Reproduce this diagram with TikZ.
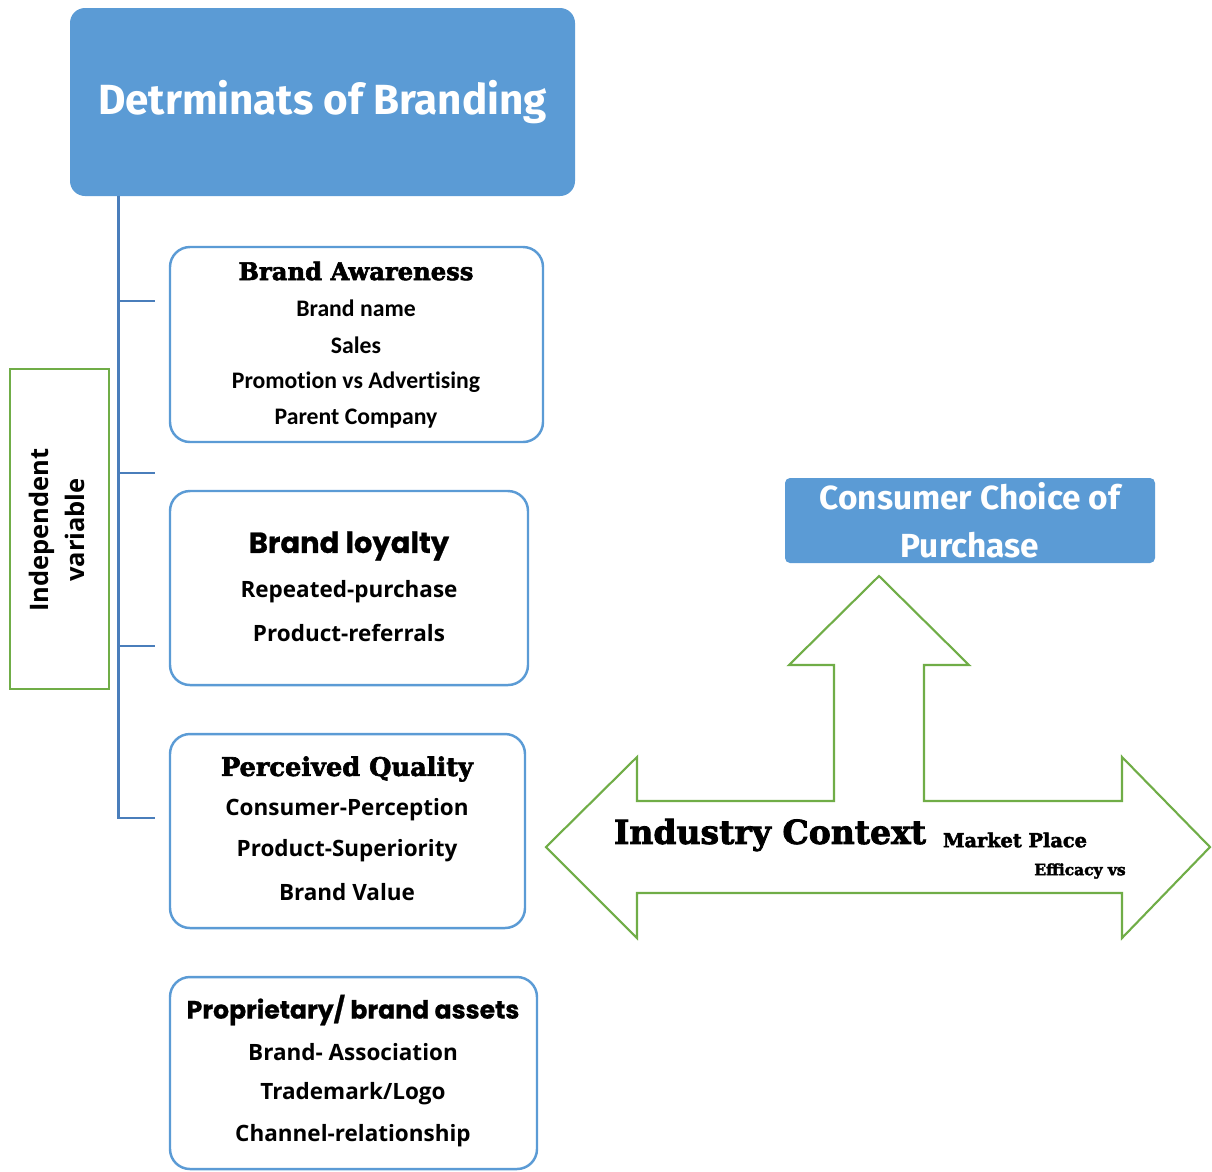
\documentclass[tikz,border=0pt]{standalone}
\usepackage{fontspec}
\setmainfont{Carlito}
\newfontfamily\titlefont{Fira Sans}
\newfontfamily\fatserif{DejaVu Serif}[BoldFeatures={FakeBold=2.5}]
\newfontfamily\headfont{Poppins}[BoldFeatures={FakeBold=0.8}]
\newfontfamily\bodyfont{Open Sans}
\newfontfamily\calfont{Carlito}[Ligatures=NoCommon]
\definecolor{boxblue}{HTML}{5B9BD5}
\definecolor{linkblue}{HTML}{4A7EBB}
\definecolor{leafgreen}{HTML}{70AD47}
\newdimen\pxu
\pxu=0.02cm
\begin{document}
\begin{tikzpicture}[x=0.02cm,y=-0.02cm,
  bluebox/.style={rectangle, fill=boxblue, draw=none, inner sep=0pt},
  itembox/.style={rectangle, rounded corners=0.4cm, draw=boxblue, line width=1.4pt, fill=white, inner sep=0pt},
  link/.style={draw=linkblue, line width=1.4pt},
  txt/.style={inner sep=0pt, anchor=center},
  fattitle/.style={txt, font=\fatserif\bfseries\fontsize{13.8}{16}\selectfont},
  calline/.style={txt, font=\calfont\bfseries\fontsize{13.5}{16}\selectfont},
  sansline/.style={txt, font=\bodyfont\bfseries\fontsize{12.8}{15}\selectfont},
  headline/.style={txt, font=\headfont\bfseries}]
\useasboundingbox (0,0) rectangle (1212,1171);

% heading box
\node[bluebox, rounded corners=0.3cm, minimum width=505\pxu, minimum height=188\pxu,
      text=white, font=\titlefont\bfseries\fontsize{24}{28}\selectfont] (top) at (322.5,102) {Detrminats of Branding};

% independent-variable label
\node[rectangle, draw=leafgreen, line width=1.4pt, minimum width=99\pxu, minimum height=320\pxu, inner sep=0pt] (indep) at (59.5,529) {};
\node[txt, rotate=90, align=center, font=\bodyfont\bfseries\fontsize{14.5}{20.5}\selectfont] (indeptext) at (57,530) {Independent\\variable};

% determinant boxes
\node[itembox, minimum width=373\pxu, minimum height=195\pxu] (aware) at (356.5,344.5) {};
\node[itembox, minimum width=358\pxu, minimum height=194\pxu] (loyal) at (349,588) {};
\node[itembox, minimum width=355\pxu, minimum height=194\pxu] (quality) at (347.5,831) {};
\node[itembox, minimum width=367\pxu, minimum height=192\pxu] (assets) at (353.5,1073) {};

% Brand Awareness
\node[fattitle] (aw0) at (356,271) {Brand Awareness};
\node[calline] (aw1) at (356,308) {Brand name};
\node[calline] (aw2) at (356,345) {Sales};
\node[calline] (aw3) at (356,382) {Promotion vs Advertising};
\node[calline] (aw4) at (356,419) {Parent Company};

% Brand loyalty
\node[headline, font=\headfont\bfseries\fontsize{16.5}{20}\selectfont] (lo0) at (349,546) {Brand loyalty};
\node[sansline] (lo1) at (349,592) {Repeated-purchase};
\node[sansline] (lo2) at (349,633) {Product-referrals};

% Perceived Quality
\node[fattitle, font=\fatserif\bfseries\fontsize{14.6}{16}\selectfont] (pq0) at (347,769) {Perceived Quality};
\node[sansline] (pq1) at (347,810) {Consumer-Perception};
\node[sansline] (pq2) at (347,851) {Product-Superiority};
\node[sansline] (pq3) at (347,892) {Brand Value};

% Proprietary assets
\node[headline, font=\headfont\bfseries\fontsize{14.3}{18}\selectfont] (as0) at (353,1010) {Proprietary/ brand assets};
\node[sansline] (as1) at (353,1052) {Brand- Association};
\node[sansline] (as2) at (353,1094) {Trademark/Logo};
\node[sansline] (as3) at (353,1136) {Channel-relationship};

% tree connectors
\path (top.south west) ++(49,0) coordinate (trunktop);
\coordinate (tick1) at (155,301);
\coordinate (tick2) at (155,473);
\coordinate (tick3) at (155,646);
\coordinate (tick4) at (155,818);
\draw[link] (trunktop) |- (tick4);
\foreach \i in {1,2,3}{\draw[link] (trunktop |- tick\i) -- (tick\i);}

% outcome box
\node[bluebox, rounded corners=0.1cm, minimum width=370\pxu, minimum height=85\pxu] (choice) at (970,520.5) {};
\node[txt, text=white, align=center, font=\titlefont\bfseries\fontsize{19}{27.5}\selectfont] (choicetext) at (970,520) {Consumer Choice of\\Purchase};

% industry-context arrow
\draw[leafgreen, line width=1.2pt, fill=white]
  (546,847) -- (637,757) -- (637,801) -- (834,801) -- (834,665) -- (789,665)
  -- (879,576) -- (969,665) -- (924,665) -- (924,801) -- (1122,801) -- (1122,757)
  -- (1210,847) -- (1122,938) -- (1122,893) -- (637,893) -- (637,938) -- cycle;
\node[txt, font=\fatserif\bfseries\fontsize{18.8}{20}\selectfont] (ind) at (770,835) {Industry Context};
\node[txt, font=\fatserif\bfseries\fontsize{11}{13}\selectfont] (mkt) at (1015,840) {Market Place};
\node[txt, font=\fatserif\bfseries\fontsize{8.8}{10}\selectfont] (eff) at (1080,871) {Efficacy vs};
\end{tikzpicture}
\end{document}
